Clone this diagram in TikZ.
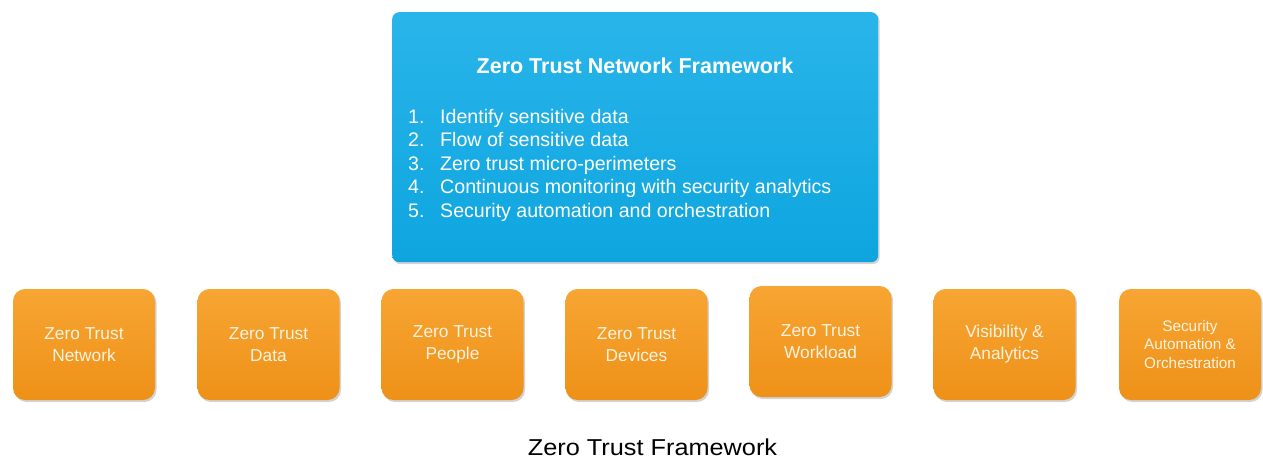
\documentclass[tikz,border=0pt]{standalone}
\usepackage{fontspec}
\setmainfont{Liberation Sans}
\newfontfamily\widefont[FakeStretch=1.1]{Liberation Sans}
\usetikzlibrary{shadows,positioning}
\definecolor{bluetop}{HTML}{29B5EA}
\definecolor{bluebot}{HTML}{0EA5DF}
\definecolor{orgtop}{HTML}{F7A533}
\definecolor{orgbot}{HTML}{EE9118}
\definecolor{orgtxt}{HTML}{FFF3E0}
\begin{document}
\begin{tikzpicture}[x=1pt,y=-1pt,
  bigbox/.style={draw=none, rounded corners=7pt, top color=bluetop, bottom color=bluebot,
    drop shadow={shadow xshift=1.5pt, shadow yshift=-2pt, opacity=0.35}},
  orgbox/.style={draw=none, rounded corners=12pt, top color=orgtop, bottom color=orgbot,
    minimum width=142pt, minimum height=111pt, inner sep=0pt, align=center,
    text=orgtxt, font=\fontsize{17.3}{22}\selectfont,
    drop shadow={shadow xshift=1.5pt, shadow yshift=-2pt, opacity=0.35}},
  listtxt/.style={text=white, font=\fontsize{19.6}{22}\selectfont, anchor=base west, inner sep=0pt}
]
\useasboundingbox (0,0) rectangle (1263,459);
\node[bigbox, minimum width=486pt, minimum height=250pt, anchor=north west] (main) at (392,12) {};
\node[text=white, font=\bfseries\fontsize{21.5}{24}\selectfont, anchor=base] (title) at (635,73) {Zero Trust Network Framework};
\foreach \n/\t/\y in {1/Identify sensitive data/123, 2/Flow of sensitive data/146.5, 3/Zero trust micro-perimeters/170, 4/Continuous monitoring with security analytics/193.5, 5/Security automation and orchestration/217}{
  \node[listtxt] (num\n) at (408,\y) {\n.};
  \node[listtxt] (item\n) at (440,\y) {\t};
}
\node[orgbox] (b1) at (84,344.5) {Zero Trust\\Network};
\node[orgbox] (b2) at (268.5,344.5) {Zero Trust\\Data};
\node[orgbox] (b3) at (452.5,344.5) {Zero Trust\\People};
\node[orgbox] (b4) at (636.5,344.5) {Zero Trust\\Devices};
\node[orgbox] (b5) at (820.5,341.5) {Zero Trust\\Workload};
\node[orgbox] (b6) at (1004.5,344.5) {Visibility \&\\Analytics};
\node[orgbox, font=\fontsize{15.3}{18.5}\selectfont] (b7) at (1190,344.5) {Security\\Automation \&\\Orchestration};
\node[font=\widefont\fontsize{23}{26}\selectfont, anchor=base, inner sep=0pt] (cap) at (652.5,455) {Zero Trust Framework};
\end{tikzpicture}
\end{document}
